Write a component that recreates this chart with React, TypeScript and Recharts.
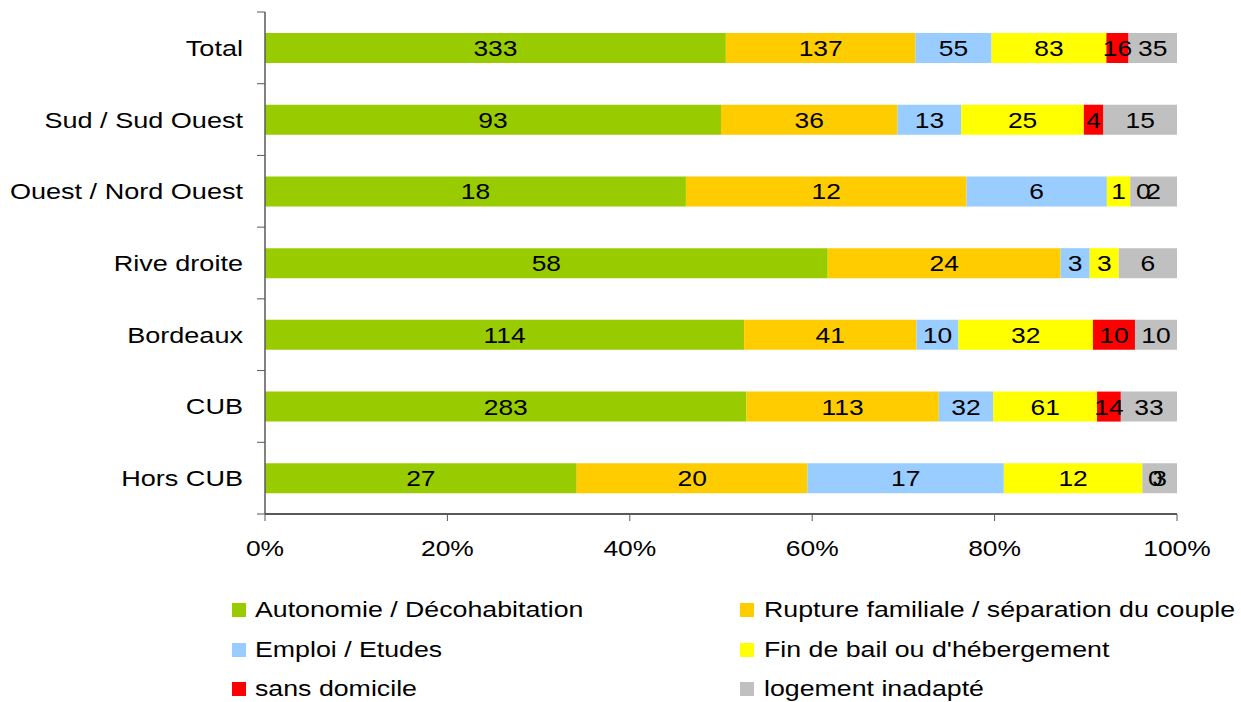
import React from "react";
import { BarChart, Bar, XAxis, YAxis, LabelList } from "recharts";

const categories = ["Total", "Sud / Sud Ouest", "Ouest / Nord Ouest", "Rive droite", "Bordeaux", "CUB", "Hors CUB"];
const autonomie = [333, 93, 18, 58, 114, 283, 27];
const rupture = [137, 36, 12, 24, 41, 113, 20];
const emploi = [55, 13, 6, 3, 10, 32, 17];
const finBail = [83, 25, 1, 3, 32, 61, 12];
const sansDomicile: (number | null)[] = [16, 4, 0, null, 10, 14, 0];
const inadapte = [35, 15, 2, 6, 10, 33, 3];
const xTicks = [0, 0.2, 0.4, 0.6, 0.8, 1];

const SERIES = [
  { key: "autonomie", name: "Autonomie / Décohabitation", color: "#99CC00" },
  { key: "rupture", name: "Rupture familiale / séparation du couple", color: "#FFCC00" },
  { key: "emploi", name: "Emploi / Etudes", color: "#99CCFF" },
  { key: "finBail", name: "Fin de bail ou d'hébergement", color: "#FFFF00" },
  { key: "sansDomicile", name: "sans domicile", color: "#FF0000" },
  { key: "inadapte", name: "logement inadapté", color: "#C0C0C0" },
];

const data = categories.map((name, i) => ({
  name,
  autonomie: autonomie[i],
  rupture: rupture[i],
  emploi: emploi[i],
  finBail: finBail[i],
  sansDomicile: sansDomicile[i],
  inadapte: inadapte[i],
}));

const FONT = "'Liberation Sans', Arial, sans-serif";
const AXIS = "#595959";
const TOP = 12;
const BOTTOM = 514;
const X_AXIS_H = 60;
const BAND = (BOTTOM - TOP) / categories.length;
const STRETCH = 1.2;
const STRETCH_WIDE = 1.23;
const STRETCH_LEGEND = 1.215;

// the source picture is a little wider than tall, so text is stretched horizontally
function StretchText({ x, y, anchor, children, stretch = STRETCH }: any) {
  return (
    <text
      transform={`translate(${x},${y}) scale(${stretch},1)`}
      x={0}
      y={0}
      textAnchor={anchor}
      fontSize={22}
      fontFamily={FONT}
      fill="#000"
    >
      {children}
    </text>
  );
}

function CategoryTick(props: any) {
  const { y, payload, index } = props;
  return (
    <g>
      <StretchText x={243} y={y + 8} anchor="end" stretch={STRETCH_WIDE}>
        {payload.value}
      </StretchText>
      <line x1={257} x2={265} y1={y - BAND / 2} y2={y - BAND / 2} stroke={AXIS} />
      {index === categories.length - 1 && (
        <line x1={257} x2={265} y1={y + BAND / 2} y2={y + BAND / 2} stroke={AXIS} />
      )}
    </g>
  );
}

function PercentTick(props: any) {
  const { x, payload } = props;
  return (
    <StretchText x={x} y={556} anchor="middle">
      {`${Math.round(payload.value * 100)}%`}
    </StretchText>
  );
}

function BarLabel(props: any) {
  const { x, y, width, height, value } = props;
  if (value === null || value === undefined) return null;
  return (
    <StretchText x={x + width / 2} y={y + height / 2 + 8} anchor="middle">
      {String(value)}
    </StretchText>
  );
}

// zero-width "sans domicile" segments get no label from recharts,
// so their 0 is written just inside the grey segment, as in the original
function LastLabel(props: any) {
  const { x, y, height, index } = props;
  const zero = sansDomicile[index] === 0;
  return (
    <g>
      <BarLabel {...props} />
      {zero && (
        <StretchText x={x + 13} y={y + height / 2 + 8} anchor="middle">
          0
        </StretchText>
      )}
    </g>
  );
}

function LegendBlock() {
  return (
    <div style={{ position: "absolute", left: 0, top: 0, width: 1241, height: 702, fontFamily: FONT, fontSize: 22 }}>
      {SERIES.map((s, i) => {
        const col = i % 2;
        const row = Math.floor(i / 2);
        const left = col === 0 ? 232 : 740;
        const top = 603 + row * 39.5;
        return (
          <div key={s.key} style={{ position: "absolute", left, top, height: 14 }}>
            <span style={{ position: "absolute", left: 0, top: 0, width: 14, height: 14, background: s.color }} />
            <span
              style={{
                position: "absolute",
                left: col === 0 ? 23 : 24,
                top: -6,
                whiteSpace: "nowrap",
                lineHeight: "26px",
                transform: `scaleX(${STRETCH_LEGEND})`,
                transformOrigin: "left center",
              }}
            >
              {s.name}
            </span>
          </div>
        );
      })}
    </div>
  );
}

export default function App() {
  return (
    <div style={{ position: "absolute", left: 0, top: 0, width: 1241, height: 702, background: "#fff" }}>
      <BarChart
        width={1241}
        height={702}
        data={data}
        layout="vertical"
        stackOffset="expand"
        barSize={30}
        margin={{ top: TOP, right: 64, bottom: 702 - BOTTOM - X_AXIS_H, left: 0 }}
      >
        <XAxis
          type="number"
          domain={[0, 1]}
          ticks={xTicks}
          tick={<PercentTick />}
          tickSize={7}
          axisLine={{ stroke: AXIS, strokeWidth: 2 }}
          tickLine={{ stroke: AXIS }}
          height={X_AXIS_H}
        />
        <YAxis
          type="category"
          dataKey="name"
          width={265}
          tick={<CategoryTick />}
          tickLine={false}
          axisLine={{ stroke: AXIS, strokeWidth: 1.5 }}
          interval={0}
        />
        <YAxis
          yAxisId="right"
          type="category"
          dataKey="name"
          orientation="right"
          width={0}
          tick={false}
          tickLine={false}
          axisLine={{ stroke: AXIS, strokeWidth: 2 }}
        />
        {SERIES.map((s) => (
          <Bar key={s.key} dataKey={s.key} name={s.name} stackId="a" fill={s.color} isAnimationActive={false}>
            <LabelList dataKey={s.key} content={s.key === "inadapte" ? <LastLabel /> : <BarLabel />} />
          </Bar>
        ))}
      </BarChart>
      <LegendBlock />
    </div>
  );
}
